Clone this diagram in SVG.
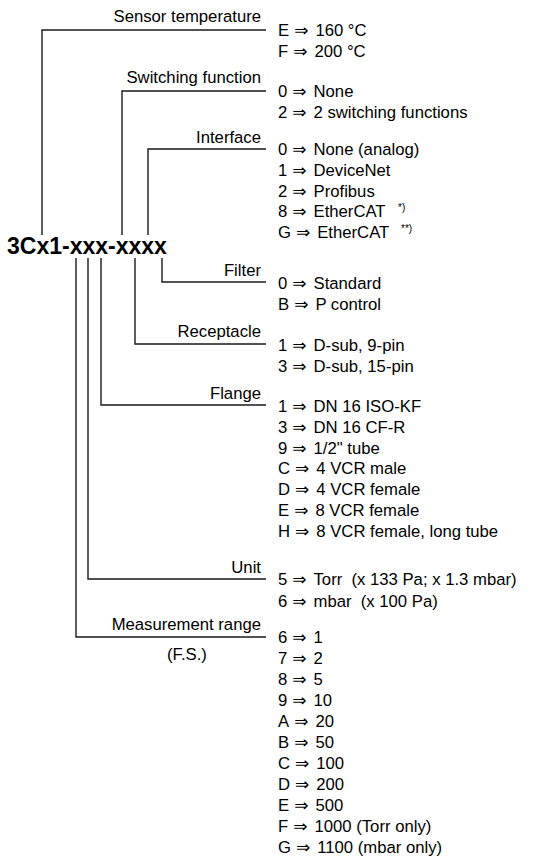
<svg xmlns="http://www.w3.org/2000/svg" width="546" height="858" viewBox="0 0 546 858">
<style>
text{font-family:"Liberation Sans",Arial,"DejaVu Sans",sans-serif;font-size:16.7px;fill:#000}
.lbl{text-anchor:end}
.code{font-weight:bold;font-size:23px}
.sup{font-size:10px}
.ar{font-family:"DejaVu Sans",sans-serif;font-size:17px}
.c{fill:none;stroke:#1a1a1a;stroke-width:1.4}
</style>
<rect width="546" height="858" fill="#fff"/>
<g id="connectors">
<polyline class="c" points="266,30 42,30 42,235"/>
<polyline class="c" points="266,91 122,91 122,235"/>
<polyline class="c" points="266,149 148,149 148,235"/>
<polyline class="c" points="162,258 162,282 266,282"/>
<polyline class="c" points="135,258 135,344 266,344"/>
<polyline class="c" points="101,258 101,405 266,405"/>
<polyline class="c" points="88,258 88,579 266,579"/>
<polyline class="c" points="76,258 76,637 266,637"/>
</g>
<g id="code"><text class="code" x="7" y="254">3Cx1-xxx-xxxx</text></g>
<g id="sensor-temperature">
<text class="lbl" x="261" y="22">Sensor temperature</text>
<text x="278" y="36">E<tspan class="ar" dx="5">⇒</tspan><tspan dx="7">160 °C</tspan></text>
<text x="278" y="57">F<tspan class="ar" dx="5">⇒</tspan><tspan dx="7">200 °C</tspan></text>
</g>
<g id="switching-function">
<text class="lbl" x="261" y="83">Switching function</text>
<text x="278" y="97">0<tspan class="ar" dx="5">⇒</tspan><tspan dx="7">None</tspan></text>
<text x="278" y="118">2<tspan class="ar" dx="5">⇒</tspan><tspan dx="7">2 switching functions</tspan></text>
</g>
<g id="interface">
<text class="lbl" x="261" y="143">Interface</text>
<text x="278" y="155">0<tspan class="ar" dx="5">⇒</tspan><tspan dx="7">None (analog)</tspan></text>
<text x="278" y="176">1<tspan class="ar" dx="5">⇒</tspan><tspan dx="7">DeviceNet</tspan></text>
<text x="278" y="197">2<tspan class="ar" dx="5">⇒</tspan><tspan dx="7">Profibus</tspan></text>
<text x="278" y="217">8<tspan class="ar" dx="5">⇒</tspan><tspan dx="7">EtherCAT</tspan></text>
<text class="sup" x="398" y="211">*)</text>
<text x="278" y="238">G<tspan class="ar" dx="5">⇒</tspan><tspan dx="7">EtherCAT</tspan></text>
<text class="sup" x="401" y="232">**)</text>
</g>
<g id="filter">
<text class="lbl" x="261" y="276">Filter</text>
<text x="278" y="289">0<tspan class="ar" dx="5">⇒</tspan><tspan dx="7">Standard</tspan></text>
<text x="278" y="310">B<tspan class="ar" dx="5">⇒</tspan><tspan dx="7">P control</tspan></text>
</g>
<g id="receptacle">
<text class="lbl" x="261" y="337">Receptacle</text>
<text x="278" y="351">1<tspan class="ar" dx="5">⇒</tspan><tspan dx="7">D-sub, 9-pin</tspan></text>
<text x="278" y="372">3<tspan class="ar" dx="5">⇒</tspan><tspan dx="7">D-sub, 15-pin</tspan></text>
</g>
<g id="flange">
<text class="lbl" x="261" y="399">Flange</text>
<text x="278" y="412">1<tspan class="ar" dx="5">⇒</tspan><tspan dx="7">DN 16 ISO-KF</tspan></text>
<text x="278" y="433">3<tspan class="ar" dx="5">⇒</tspan><tspan dx="7">DN 16 CF-R</tspan></text>
<text x="278" y="454">9<tspan class="ar" dx="5">⇒</tspan><tspan dx="7">1/2" tube</tspan></text>
<text x="278" y="474">C<tspan class="ar" dx="5">⇒</tspan><tspan dx="7">4 VCR male</tspan></text>
<text x="278" y="495">D<tspan class="ar" dx="5">⇒</tspan><tspan dx="7">4 VCR female</tspan></text>
<text x="278" y="516">E<tspan class="ar" dx="5">⇒</tspan><tspan dx="7">8 VCR female</tspan></text>
<text x="278" y="537">H<tspan class="ar" dx="5">⇒</tspan><tspan dx="7">8 VCR female, long tube</tspan></text>
</g>
<g id="unit">
<text class="lbl" x="261" y="573">Unit</text>
<text x="278" y="585">5<tspan class="ar" dx="5">⇒</tspan><tspan dx="7">Torr</tspan><tspan dx="9.2">(x 133 Pa; x 1.3 mbar)</tspan></text>
<text x="278" y="607">6<tspan class="ar" dx="5">⇒</tspan><tspan dx="7">mbar</tspan><tspan dx="9.2">(x 100 Pa)</tspan></text>
</g>
<g id="measurement-range">
<text class="lbl" x="261" y="630">Measurement range</text>
<text x="187" y="660" text-anchor="middle">(F.S.)</text>
<text x="278" y="643">6<tspan class="ar" dx="5">⇒</tspan><tspan dx="7">1</tspan></text>
<text x="278" y="664">7<tspan class="ar" dx="5">⇒</tspan><tspan dx="7">2</tspan></text>
<text x="278" y="685">8<tspan class="ar" dx="5">⇒</tspan><tspan dx="7">5</tspan></text>
<text x="278" y="706">9<tspan class="ar" dx="5">⇒</tspan><tspan dx="7">10</tspan></text>
<text x="278" y="727">A<tspan class="ar" dx="5">⇒</tspan><tspan dx="7">20</tspan></text>
<text x="278" y="748">B<tspan class="ar" dx="5">⇒</tspan><tspan dx="7">50</tspan></text>
<text x="278" y="769">C<tspan class="ar" dx="5">⇒</tspan><tspan dx="7">100</tspan></text>
<text x="278" y="790">D<tspan class="ar" dx="5">⇒</tspan><tspan dx="7">200</tspan></text>
<text x="278" y="811">E<tspan class="ar" dx="5">⇒</tspan><tspan dx="7">500</tspan></text>
<text x="278" y="832">F<tspan class="ar" dx="5">⇒</tspan><tspan dx="7">1000 (Torr only)</tspan></text>
<text x="278" y="853">G<tspan class="ar" dx="5">⇒</tspan><tspan dx="7">1100 (mbar only)</tspan></text>
</g>
</svg>
